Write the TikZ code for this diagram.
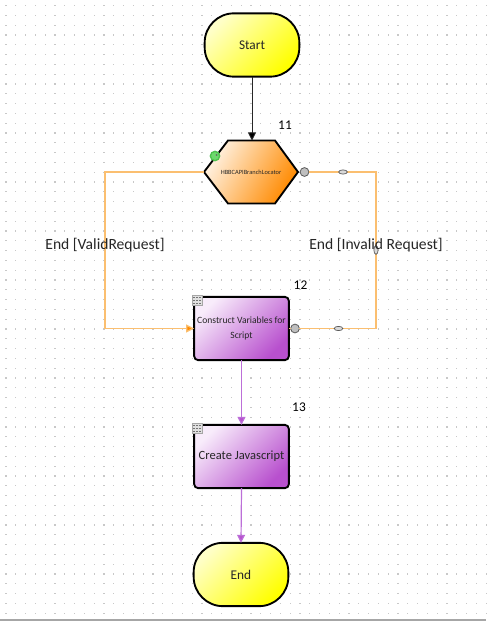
\documentclass[tikz,border=0pt]{standalone}
\usepackage{fontspec}
\setmainfont{Carlito}
\usetikzlibrary{arrows.meta,shapes.geometric}
\definecolor{orl}{HTML}{FBBF70}
\definecolor{orf}{HTML}{FF8A00}
\definecolor{purf}{HTML}{B850CE}
\definecolor{purm}{HTML}{CC80DE}
\definecolor{purs}{HTML}{F8ECFB}
\definecolor{purl}{HTML}{BC6FD8}
\definecolor{yels}{HTML}{FFFFC8}
\definecolor{yelm}{HTML}{FFFF50}
\definecolor{orm}{HTML}{FFB860}
\definecolor{ors}{HTML}{FFF2E2}
\definecolor{dotc}{HTML}{C8C8C8}
\tikzset{
  every node/.style={inner sep=0pt,outer sep=0pt,text=black!85},
  pxf/.style={font=\fontsize{#1}{#1}\selectfont},
  termbox/.style={draw=black,line width=1.4pt,rectangle,rounded corners=22pt,minimum width=71pt,minimum height=47.5pt,left color=yels,middle color=yelm,right color=yellow,shading angle=45},
  procbox/.style={draw=black,line width=1.4pt,rectangle,rounded corners=3pt,minimum width=71pt,minimum height=47.5pt,left color=purs,middle color=purm,right color=purf,shading angle=45,align=center},
  port/.style={circle,draw=black!65,fill=black!25,line width=.6pt,minimum size=6.6pt},
  lbl/.style={ellipse,draw=black!65,fill=black!15,line width=.5pt,minimum width=6.5pt,minimum height=3.2pt},
  orline/.style={draw=orl,line width=.9pt},
  purline/.style={draw=purl,line width=.9pt,-{Triangle[length=6pt,width=6pt,fill=purf]}},
  numlbl/.style={pxf=10,text=black},
  icon/.style={draw=black!35,fill=black!12,minimum width=7.5pt,minimum height=7.5pt,line width=.3pt}
}
\begin{document}
\begin{tikzpicture}[x=.75pt,y=-.75pt]
\useasboundingbox (0,0) rectangle (486,624);
\fill[white] (0,0) rectangle (486,624);
\foreach \i in {0,...,49}{\foreach \j in {0,...,62}{
  \fill[dotc] ({6+9.8*\i-.6},{5.6+9.8*\j-.6}) rectangle ++(1.2,1.2);
}}
\draw[black!35,line width=1.5pt] (0,619.5) -- (486,619.5);

\node[termbox,pxf=10] (start) at (252,45) {Start};
\node[termbox,pxf=10] (end) at (241,574.5) {End};
\node[procbox,pxf=7.2] (p12) at (241.5,328.5) {Construct Variables for\\[4pt]Script};
\node[procbox,pxf=9.4] (p13) at (241.5,456.5) {Create Javascript};

\coordinate (hT) at (252,140.5);
\coordinate (hL) at (204,172);
\coordinate (hR) at (298,172);
\shade[draw=black,line width=1.4pt,line join=miter,left color=ors,middle color=orm,right color=orf,shading angle=60]
  (228,140.5) -- (275,140.5) -- (hR) -- (275,203.5) -- (228,203.5) -- (hL) -- cycle;
\node[pxf=4.8] (h) at (251,172.5) {HBBCAPIBranchLocator};

\node[circle,draw=green!65!black!70,fill=green!50!white!85!black,line width=1pt,minimum size=7pt] (g) at (215,156) {};
\node[circle,fill=black!60,minimum size=1.5pt] (gc) at (216.5,155) {};

\node[icon] (i12) at (197,300) {};
\node[icon] (i13) at (197,428) {};
\foreach \n in {i12,i13}{\foreach \a in {-1,0,1}{\foreach \b in {-1,0,1}{
  \fill[black!55] ([xshift=\a*2.3pt,yshift=\b*2.3pt]\n.center) ++(-.8,-.4) rectangle ++(1.6,.8);
}}}

\node[port] (pa) at (304.5,172) {};
\node[port] (pb) at (295,328.5) {};
\coordinate (c1) at (376,172);
\coordinate (c2) at (376,328.5);
\coordinate (c3) at (105,172);
\coordinate (c4) at (105,328.5);
\draw[orline] (pa) -- (c1) -- (c2) -- (pb);
\draw[orline] (pb) -- (p12.east |- pb);
\draw[orline,-{Triangle[length=6pt,width=6pt,fill=orf]}] (hL) -- (c3) -- (c4) -- (p12.west |- c4);
\node[lbl] (l1) at (343,172) {};
\node[lbl] (l2) at (338.5,328.5) {};
\node[lbl,rotate=90] (l3) at (376,250) {};

\draw[black!85,line width=.7pt,-{Triangle[length=6pt,width=6pt,fill=black]}] (start.south) -- (hT);
\draw[purline] (p12.south) -- (p13.north);
\draw[purline] (p13.south) -- (end.north);

\node[pxf=11.7,anchor=base] (e1) at (105,249) {End [ValidRequest]};
\node[pxf=11.7,anchor=base] (e2) at (376,249) {End [Invalid Request]};
\node[numlbl] (n11) at (285,125.5) {11};
\node[numlbl] (n12) at (300.5,285.5) {12};
\node[numlbl] (n13) at (299,407.5) {13};
\end{tikzpicture}
\end{document}
